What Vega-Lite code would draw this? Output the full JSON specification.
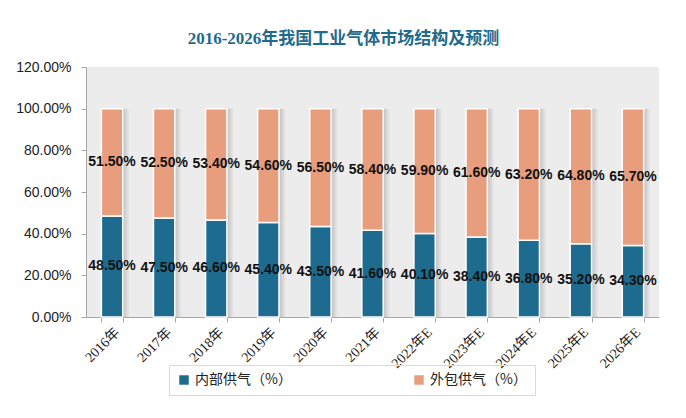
{
  "$schema": "https://vega.github.io/schema/vega-lite/v6.json",
  "autosize": {"type": "none"},
  "width": 573,
  "height": 250,
  "padding": {"left": 86, "top": 67, "right": 27, "bottom": 101},
  "background": "white",
  "title": {
    "text": "2016-2026年我国工业气体市场结构及预测",
    "font": "Liberation Serif, Noto Sans CJK SC",
    "fontSize": 17,
    "fontWeight": "bold",
    "color": "#1f6b8e",
    "anchor": "middle",
    "dx": -29,
    "offset": 12
  },
  "config": {
    "view": {"fill": "#ececec", "stroke": null},
    "axis": {"domainColor": "#a6a6a6", "tickColor": "#a6a6a6", "grid": false}
  },
  "data": {
    "values": [
      {"year": "2016年", "series": "内部供气（%）", "value": 0.485},
      {"year": "2017年", "series": "内部供气（%）", "value": 0.475},
      {"year": "2018年", "series": "内部供气（%）", "value": 0.466},
      {"year": "2019年", "series": "内部供气（%）", "value": 0.454},
      {"year": "2020年", "series": "内部供气（%）", "value": 0.435},
      {"year": "2021年", "series": "内部供气（%）", "value": 0.416},
      {"year": "2022年E", "series": "内部供气（%）", "value": 0.401},
      {"year": "2023年E", "series": "内部供气（%）", "value": 0.384},
      {"year": "2024年E", "series": "内部供气（%）", "value": 0.368},
      {"year": "2025年E", "series": "内部供气（%）", "value": 0.352},
      {"year": "2026年E", "series": "内部供气（%）", "value": 0.343},
      {"year": "2016年", "series": "外包供气（%）", "value": 0.515},
      {"year": "2017年", "series": "外包供气（%）", "value": 0.525},
      {"year": "2018年", "series": "外包供气（%）", "value": 0.534},
      {"year": "2019年", "series": "外包供气（%）", "value": 0.546},
      {"year": "2020年", "series": "外包供气（%）", "value": 0.565},
      {"year": "2021年", "series": "外包供气（%）", "value": 0.584},
      {"year": "2022年E", "series": "外包供气（%）", "value": 0.599},
      {"year": "2023年E", "series": "外包供气（%）", "value": 0.616},
      {"year": "2024年E", "series": "外包供气（%）", "value": 0.632},
      {"year": "2025年E", "series": "外包供气（%）", "value": 0.648},
      {"year": "2026年E", "series": "外包供气（%）", "value": 0.657}
    ]
  },
  "encoding": {
    "x": {
      "field": "year",
      "type": "nominal",
      "sort": null,
      "scale": {"paddingInner": 0.59, "paddingOuter": 0.295},
      "axis": {
        "title": null,
        "labelAngle": -45,
        "labelFont": "Liberation Serif, Noto Sans CJK SC",
        "labelFontSize": 14,
        "labelColor": "#222222",
        "tickBand": "extent",
        "tickSize": 5,
        "labelPadding": 3
      }
    },
    "order": {"field": "series", "sort": "ascending"}
  },
  "layer": [
    {
      "mark": {
        "type": "bar",
        "xOffset": 7,
        "color": {
          "gradient": "linear",
          "x1": 0, "x2": 1, "y1": 0, "y2": 0,
          "stops": [
            {"offset": 0, "color": "#9a9a9a"},
            {"offset": 0.6, "color": "#a8a8a8"},
            {"offset": 1, "color": "#ececec"}
          ]
        },
        "opacity": 0.8
      },
      "encoding": {
        "y": {"field": "value", "type": "quantitative", "stack": "zero"},
        "detail": {"field": "series"}
      }
    },
    {
      "mark": {"type": "bar", "stroke": "white", "strokeWidth": 1.5},
      "encoding": {
        "y": {
          "field": "value",
          "type": "quantitative",
          "stack": "zero",
          "scale": {"domain": [0, 1.2]},
          "axis": {
            "title": null,
            "format": ".2%",
            "values": [0, 0.2, 0.4, 0.6, 0.8, 1.0, 1.2],
            "labelFont": "Liberation Sans",
            "labelFontSize": 14,
            "labelColor": "#222222",
            "tickSize": 5,
            "labelPadding": 10
          }
        },
        "color": {
          "field": "series",
          "type": "nominal",
          "scale": {"domain": ["内部供气（%）", "外包供气（%）"], "range": ["#1d6c8f", "#e89d7c"]},
          "legend": {
            "title": null,
            "orient": "none",
            "direction": "horizontal",
            "legendX": 83,
            "legendY": 298,
            "padding": 8,
            "strokeColor": "#d9d9d9",
            "symbolType": "square",
            "symbolSize": 90,
            "symbolStrokeWidth": 0,
            "labelFont": "Noto Sans CJK SC",
            "labelFontSize": 14,
            "labelColor": "#222222",
            "columnPadding": 120,
            "labelLimit": 200
          }
        }
      }
    },
    {
      "mark": {"type": "text", "font": "Liberation Sans", "fontSize": 14, "fontWeight": "bold", "color": "#111111", "baseline": "middle"},
      "encoding": {
        "y": {"field": "value", "type": "quantitative", "stack": "zero", "bandPosition": 0.5},
        "detail": {"field": "series"},
        "text": {"field": "value", "type": "quantitative", "format": ".2%"}
      }
    }
  ]
}
